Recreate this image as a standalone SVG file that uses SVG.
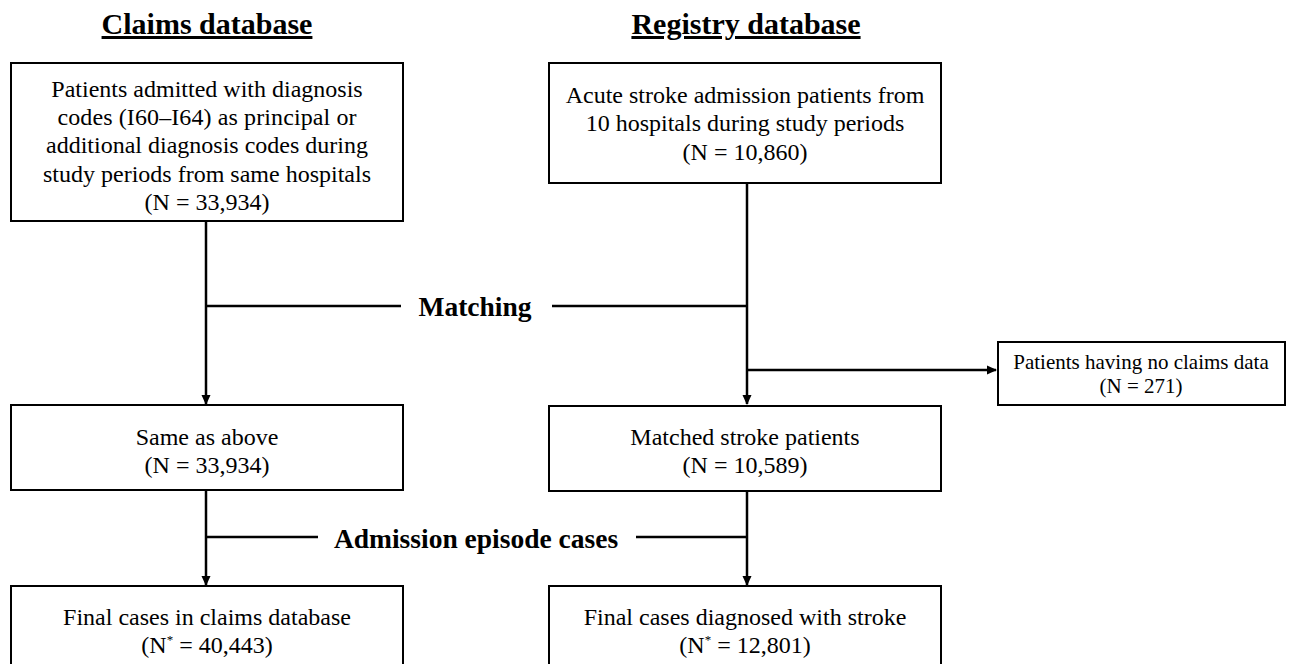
<svg xmlns="http://www.w3.org/2000/svg" width="1290" height="664" viewBox="0 0 1290 664">
<style>
.box{fill:#fff;stroke:#000;stroke-width:2}
.t{font-family:"Liberation Serif","Times New Roman",serif;font-size:24px;fill:#000;text-anchor:middle}
.ts{font-family:"Liberation Serif","Times New Roman",serif;font-size:21px;fill:#000;text-anchor:middle}
.h{font-family:"Liberation Serif","Times New Roman",serif;font-size:30px;font-weight:bold;fill:#000;text-anchor:middle;text-decoration:underline}
.lab{font-family:"Liberation Serif","Times New Roman",serif;font-size:27.5px;font-weight:bold;fill:#000;text-anchor:middle}
.c{stroke:#000;stroke-width:2.5;fill:none}
</style>
<defs>
<marker id="arr" markerWidth="10" markerHeight="10" refX="9" refY="5" orient="auto" markerUnits="userSpaceOnUse">
<path d="M0,0.5 L10,5 L0,9.5 Z" fill="#000"/>
</marker>
</defs>
<rect width="1290" height="664" fill="#fff"/>
<text class="h" x="207" y="34">Claims database</text>
<text class="h" x="746" y="34">Registry database</text>
<g id="connectors">
<line class="c" x1="206" y1="221" x2="206" y2="404" marker-end="url(#arr)"/>
<line class="c" x1="747" y1="183" x2="747" y2="404" marker-end="url(#arr)"/>
<line class="c" x1="206" y1="306" x2="401" y2="306"/>
<line class="c" x1="552" y1="306" x2="747" y2="306"/>
<line class="c" x1="747" y1="370" x2="996" y2="370" marker-end="url(#arr)"/>
<line class="c" x1="206" y1="490" x2="206" y2="585" marker-end="url(#arr)"/>
<line class="c" x1="747" y1="491" x2="747" y2="585" marker-end="url(#arr)"/>
<line class="c" x1="206" y1="537" x2="318" y2="537"/>
<line class="c" x1="636" y1="537" x2="747" y2="537"/>
<text class="lab" x="475" y="316">Matching</text>
<text class="lab" x="476" y="548">Admission episode cases</text>
</g>
<g id="claims-start">
<rect class="box" x="11" y="63" width="392" height="158"/>
<text class="t" x="207" y="97">Patients admitted with diagnosis</text>
<text class="t" x="207" y="125" textLength="299" lengthAdjust="spacing">codes (I60–I64) as principal or</text>
<text class="t" x="207" y="153">additional diagnosis codes during</text>
<text class="t" x="207" y="182">study periods from same hospitals</text>
<text class="t" x="207" y="210">(N = 33,934)</text>
</g>
<g id="registry-start">
<rect class="box" x="549" y="63" width="392" height="120"/>
<text class="t" x="745" y="103">Acute stroke admission patients from</text>
<text class="t" x="745" y="131">10 hospitals during study periods</text>
<text class="t" x="745" y="160">(N = 10,860)</text>
</g>
<g id="no-claims">
<rect class="box" x="998" y="342" width="287" height="63"/>
<text class="ts" x="1141" y="369">Patients having no claims data</text>
<text class="ts" x="1141" y="393">(N = 271)</text>
</g>
<g id="claims-same">
<rect class="box" x="11" y="405" width="392" height="85"/>
<text class="t" x="207" y="445">Same as above</text>
<text class="t" x="207" y="473">(N = 33,934)</text>
</g>
<g id="registry-matched">
<rect class="box" x="549" y="406" width="392" height="85"/>
<text class="t" x="745" y="445">Matched stroke patients</text>
<text class="t" x="745" y="473">(N = 10,589)</text>
</g>
<g id="claims-final">
<rect class="box" x="11" y="586" width="392" height="90"/>
<text class="t" x="207" y="625">Final cases in claims database</text>
<text class="t" x="207" y="653">(N<tspan font-size="13" dy="-9">*</tspan><tspan dy="9"> = 40,443)</tspan></text>
</g>
<g id="registry-final">
<rect class="box" x="549" y="586" width="392" height="90"/>
<text class="t" x="745" y="625">Final cases diagnosed with stroke</text>
<text class="t" x="745" y="653">(N<tspan font-size="13" dy="-9">*</tspan><tspan dy="9"> = 12,801)</tspan></text>
</g>
</svg>
